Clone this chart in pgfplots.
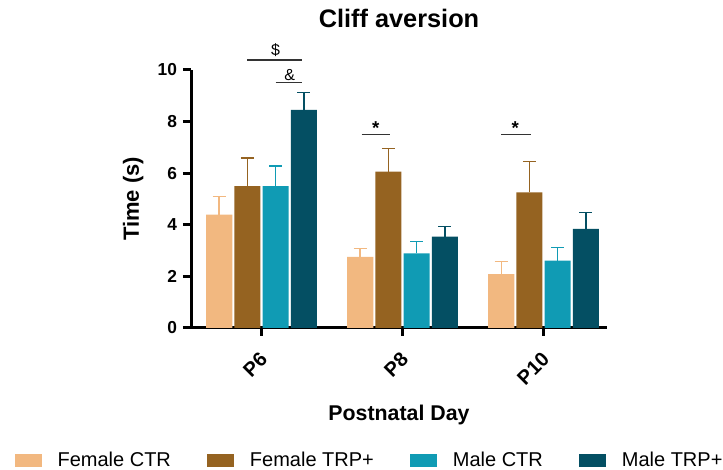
\documentclass[border=0pt]{standalone}
\usepackage{pgfplots}
\pgfplotsset{compat=1.18}
\usepackage{fontspec}
\setmainfont{Liberation Sans}
\definecolor{fctr}{HTML}{F2B880}
\definecolor{ftrp}{HTML}{956321}
\definecolor{mctr}{HTML}{109BB4}
\definecolor{mtrp}{HTML}{044F63}
\definecolor{sig}{HTML}{333333}
\pgfplotsset{
  mylegend/.style={legend image code/.code={\fill[##1] (0pt,-4.9pt) rectangle (20.25pt,4.9pt);}},
  myerr/.style={error bars/.cd, y dir=plus, y explicit,
     error bar style={line width=1.1pt, color=#1},
     error mark options={rotate=90, line width=1.1pt, mark size=4.9pt, color=#1}},
}
\begin{document}
\begin{tikzpicture}
\useasboundingbox (0,0) rectangle (542.25pt,352.5pt);
\begin{axis}[
  at={(143.25pt,106.5pt)}, anchor=south west,
  scale only axis, width=312pt, height=193.5pt,
  ybar,
  xmin=-0.5, xmax=2.45, ymin=0, ymax=10,
  enlargelimits=false, clip=false,
  xtick={0,1,2}, xticklabels={P6,P8,P10},
  ytick={0,2,4,6,8,10},
  axis x line*=bottom, axis y line*=left,
  axis line style={line width=2.25pt,-},
  tick style={line width=2.25pt, black},
  major tick length=6pt, tick align=outside,
  /pgf/number format/assume math mode=true,
  yticklabel style={font=\bfseries\fontsize{13}{15}\selectfont, xshift=-1pt},
  xticklabel style={font=\bfseries\fontsize{15}{17}\selectfont, rotate=45, anchor=north east, xshift=-6pt, yshift=-3pt},
  title={Cliff aversion},
  title style={at={(axis description cs:0.5,1.167)}, anchor=center, font=\bfseries\fontsize{19}{23}\selectfont},
  xlabel={Postnatal Day},
  xlabel style={at={(axis description cs:0.5,-0.336)}, anchor=center, font=\bfseries\fontsize{16}{19}\selectfont},
  ylabel={Time (s)},
  ylabel style={at={(axis description cs:-0.139,0.5)}, anchor=center, rotate=0, font=\bfseries\fontsize{16.5}{19}\selectfont},
  legend columns=4,
  legend style={at={(axis description cs:0.43,-0.512)}, anchor=center, draw=none, fill=none,
    font=\fontsize{15}{18}\selectfont,
    /tikz/every odd column/.append style={column sep=10pt},
    /tikz/every even column/.append style={column sep=25pt}},
]
\addplot[fill=fctr, draw=none, bar width=0.185, bar shift=-0.3, mylegend, myerr=fctr]
  coordinates {(0,4.39) +- (0,0.70) (1,2.76) +- (0,0.33) (2,2.09) +- (0,0.48)};
\addlegendentry{Female CTR}
\addplot[fill=ftrp, draw=none, bar width=0.185, bar shift=-0.1, mylegend, myerr=ftrp]
  coordinates {(0,5.50) +- (0,1.08) (1,6.06) +- (0,0.90) (2,5.26) +- (0,1.19)};
\addlegendentry{Female TRP+}
\addplot[fill=mctr, draw=none, bar width=0.185, bar shift=0.1, mylegend, myerr=mctr]
  coordinates {(0,5.50) +- (0,0.78) (1,2.89) +- (0,0.46) (2,2.61) +- (0,0.50)};
\addlegendentry{Male CTR}
\addplot[fill=mtrp, draw=none, bar width=0.185, bar shift=0.3, mylegend, myerr=mtrp]
  coordinates {(0,8.45) +- (0,0.67) (1,3.54) +- (0,0.39) (2,3.84) +- (0,0.63)};
\addlegendentry{Male TRP+}
% significance annotations
\draw[sig, line width=1.1pt] (axis cs:-0.1,10.39) -- (axis cs:0.29,10.39);
\node[font=\fontsize{12}{14}\selectfont] at (axis cs:0.1,10.78) {\$};
\draw[sig, line width=1.1pt] (axis cs:0.1,9.51) -- (axis cs:0.29,9.51);
\node[font=\fontsize{12}{14}\selectfont] at (axis cs:0.2,9.8) {\&};
\draw[sig, line width=1.1pt] (axis cs:0.71,7.5) -- (axis cs:0.91,7.5);
\node[font=\bfseries\fontsize{14}{16}\selectfont] at (axis cs:0.81,7.75) {*};
\draw[sig, line width=1.1pt] (axis cs:1.70,7.5) -- (axis cs:1.91,7.5);
\node[font=\bfseries\fontsize{14}{16}\selectfont] at (axis cs:1.80,7.75) {*};
\end{axis}
\end{tikzpicture}
\end{document}
